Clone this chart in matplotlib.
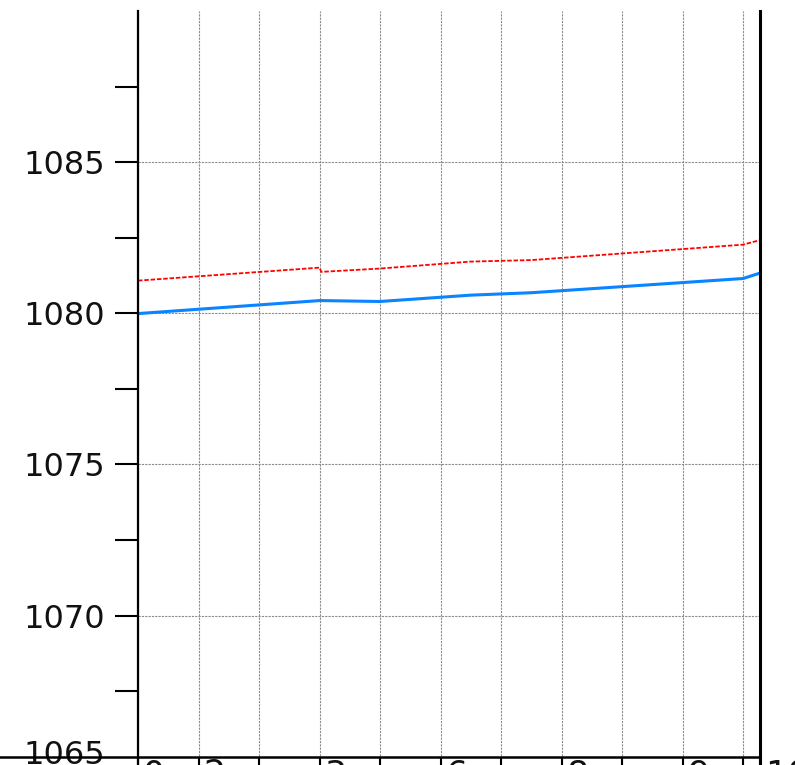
import matplotlib.pyplot as plt
from matplotlib.transforms import ScaledTranslation

# values (x in grid units)
x_vals = [0, 3, 3.03, 4, 5.5, 6.5, 10, 10.28]
red_vals = [1081.08, 1081.51, 1081.37, 1081.48, 1081.71, 1081.76, 1082.27, 1082.42]
blue_vals = [1079.99, 1080.42, 1080.42, 1080.39, 1080.60, 1080.68, 1081.15, 1081.33]

x_ticks = [0, 1, 2, 3, 4, 5, 6, 7, 8, 9, 10, 10.28]
x_labels = ["0", "2", "", "3", "", "6", "", "8", "", "9", "", "10"]
y_major = [1065, 1070, 1075, 1080, 1085]
y_minor = [1067.5, 1072.5, 1077.5, 1082.5, 1087.5]

plt.rcParams['font.family'] = ['DejaVu Sans']

fig = plt.figure(figsize=(7.95, 7.65), dpi=100)
ax = fig.add_axes([138 / 795, -0.00222, 622 / 795, 0.98784])

ax.plot(x_vals, red_vals, color="#ff0000", lw=1.3, ls=(0, (2.5, 1)))
ax.plot(x_vals, blue_vals, color="#0a84ff", lw=2.2)

ax.set_xlim(0, 10.28)
ax.set_ylim(1065, 1090)

ax.set_yticks(y_major)
ax.set_yticks(y_minor, minor=True)
ax.set_yticklabels([str(v) for v in y_major])
ax.tick_params(axis="y", which="both", length=16.5, width=1.5, pad=7,
               direction="out", labelsize=23, labelcolor="#111111")

ax.set_xticks(x_ticks)
ax.set_xticklabels(x_labels)
ax.tick_params(axis="x", length=16.5, width=1.5, pad=-15.5, direction="out",
               labelsize=25, labelcolor="#111111")

ax.grid(True, which="major", color="#8c8c8c", lw=0.8, ls=(0, (2, 1)))

ax.spines["top"].set_visible(False)
ax.spines["left"].set_linewidth(1.6)
ax.spines["right"].set_linewidth(2.2)
ax.spines["bottom"].set_position(("data", 1065.32))
ax.spines["bottom"].set_linewidth(1.8)
ax.spines["bottom"].set_bounds(-2.3, 10.28)
ax.spines["bottom"].set_clip_on(False)

# nudge labels like the reference
for lab in ax.get_xticklabels():
    lab.set_horizontalalignment("left")
    lab.set_transform(lab.get_transform() + ScaledTranslation(5 / 100, 0, fig.dpi_scale_trans))
first = ax.get_yticklabels()[0]
first.set_transform(first.get_transform() + ScaledTranslation(0, 15 / 100, fig.dpi_scale_trans))

fig.savefig("out.png", dpi=100)
